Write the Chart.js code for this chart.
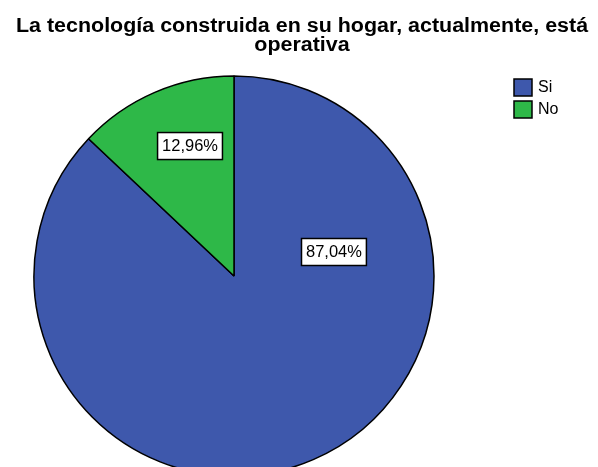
<!DOCTYPE html>
<html>
<head>
<meta charset="utf-8">
<script src="https://cdn.jsdelivr.net/npm/chart.js@4"></script>
<style>
  html, body { margin: 0; padding: 0; background: #fff; overflow: hidden; }
  #wrap { width: 598px; height: 467px; }
</style>
</head>
<body>
<div id="wrap"><canvas id="grafico"></canvas></div>
<script>
var titulo = ['La tecnología construida en su hogar, actualmente, está', 'operativa'];
var categorias = ['Si', 'No'];
var porcentajes = [87.04, 12.96];
var etiquetas = ['87,04%', '12,96%'];
var cores = ['#3E58AC', '#2EB848'];

// posicion de cada etiqueta: angulo (grados, desde eje x) y fraccion del radio
var posEtiquetas = [
    { ang: -13.5, r: 0.514 },
    { ang: -108.7, r: 0.686 }
];

var fonte = '"Liberation Sans", Arial, sans-serif';

// texto un poco ensanchado, como en el original
function textoLargo(ctx, txt, x, y, sx){
    ctx.save();
    ctx.translate(x, y);
    ctx.scale(sx, 1);
    ctx.fillText(txt, 0, 0);
    ctx.restore();
}

var extras = {
    id: 'extras',
    afterDraw: function(chart){
        var ctx = chart.ctx;
        ctx.save();

        // titulo
        ctx.fillStyle = '#000';
        ctx.font = 'bold 19.5px ' + fonte;
        ctx.textAlign = 'center';
        ctx.textBaseline = 'alphabetic';
        textoLargo(ctx, titulo[0], 302, 32, 1.1);
        textoLargo(ctx, titulo[1], 302, 51, 1.1);

        // etiquetas de porcentaje
        var meta = chart.getDatasetMeta(0);
        ctx.font = '16px ' + fonte;
        ctx.textBaseline = 'middle';
        for(var i = 0; i < meta.data.length; i++){
            var arc = meta.data[i];
            var a = posEtiquetas[i].ang * Math.PI / 180;
            var rr = arc.outerRadius * posEtiquetas[i].r;
            var x = arc.x + Math.cos(a) * rr;
            var y = arc.y + Math.sin(a) * rr;
            var w = ctx.measureText(etiquetas[i]).width * 1.03 + 9;
            var h = 27;
            ctx.fillStyle = '#fff';
            ctx.fillRect(x - w / 2, y - h / 2, w, h);
            ctx.lineWidth = 1.5;
            ctx.strokeStyle = '#000';
            ctx.strokeRect(x - w / 2, y - h / 2, w, h);
            ctx.fillStyle = '#000';
            textoLargo(ctx, etiquetas[i], x, y + 1, 1.03);
        }

        // leyenda
        ctx.textAlign = 'left';
        for(var k = 0; k < categorias.length; k++){
            var ly = 79 + k * 22;
            ctx.fillStyle = cores[k];
            ctx.fillRect(514, ly, 18, 17);
            ctx.lineWidth = 1.5;
            ctx.strokeStyle = '#000';
            ctx.strokeRect(514, ly, 18, 17);
            ctx.fillStyle = '#000';
            ctx.font = '16px ' + fonte;
            ctx.fillText(categorias[k], 538, ly + 9);
        }
        ctx.restore();
    }
};

var ctxGrafico = document.getElementById('grafico').getContext('2d');
var grafico = new Chart(ctxGrafico, {
    type: 'pie',
    data: {
        labels: categorias,
        datasets: [{
            data: porcentajes,
            backgroundColor: cores,
            borderColor: '#000',
            borderWidth: 1.5,
            radius: 200
        }]
    },
    options: {
        responsive: true,
        maintainAspectRatio: false,
        animation: false,
        events: [],
        layout: { padding: { top: 85, right: 130, left: 0, bottom: 0 } },
        plugins: {
            legend: { display: false },
            title: { display: false },
            tooltip: { enabled: false }
        }
    },
    plugins: [extras]
});
</script>
</body>
</html>
